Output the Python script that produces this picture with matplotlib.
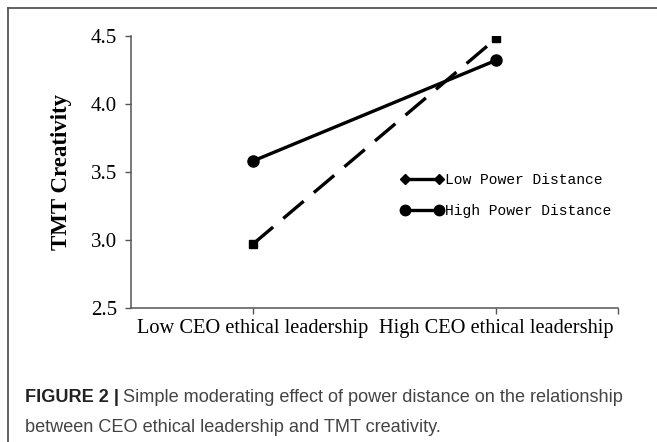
import matplotlib
matplotlib.use("Agg")
import matplotlib.pyplot as plt
from matplotlib.lines import Line2D

# data
categories = ["Low CEO ethical leadership", "High CEO ethical leadership"]
low_pd = [2.97, 4.48]
high_pd = [3.58, 4.32]
series_names = ["Low Power Distance", "High Power Distance"]
y_ticks = [2.5, 3.0, 3.5, 4.0, 4.5]

W, H = 657, 442
fig = plt.figure(figsize=(W / 100, H / 100), dpi=100)
ax = fig.add_axes([131 / W, 1 - 308.3 / H, (618 - 131) / W, (308.3 - 35.7) / H])

x = list(range(len(categories)))
ax.plot(x, low_pd, color="black", lw=2.4, dashes=(8, 4),
        marker="s", ms=5.5, dash_capstyle="butt")
ax.plot(x, high_pd, color="black", lw=2.4, marker="o", ms=8)

ax.set_xlim(-0.5, 1.5)
ax.set_ylim(2.5, 4.5)
ax.set_yticks(y_ticks)
ax.set_yticklabels([f"{v:.1f}" for v in y_ticks])
ax.set_xticks(x + [1.5])
ax.set_xticklabels(categories + [""])

serif = "Liberation Serif"
for lab in ax.get_yticklabels():
    lab.set_fontfamily(serif)
    lab.set_fontsize(15)
for lab in ax.get_xticklabels():
    lab.set_fontfamily(serif)
    lab.set_fontsize(14.7)

ax.tick_params(axis="y", direction="out", length=4, width=1, color="#555555", pad=6)
ax.tick_params(axis="x", direction="out", length=4, width=1, color="#555555", pad=4)
for side in ["top", "right"]:
    ax.spines[side].set_visible(False)
for side in ["left", "bottom"]:
    ax.spines[side].set_color("#555555")
    ax.spines[side].set_linewidth(1.1)

fig.text(62 / W, 1 - 172 / H, "TMT Creativity", rotation=90, ha="center", va="center",
         family=serif, fontweight="bold", fontsize=16.5)

# legend (excel style: solid sample with markers at both ends)
handles = [
    Line2D([], [], color="black", lw=2.4, marker="D", ms=5),
    Line2D([], [], color="black", lw=2.4, marker="o", ms=7.5),
]
ax.legend(handles, series_names, loc="upper left", bbox_to_anchor=(401 / W, 1 - 173 / H),
          bbox_transform=fig.transFigure, frameon=False, numpoints=2,
          handlelength=2.9, handletextpad=0.1, labelspacing=1.2,
          borderpad=0, borderaxespad=0,
          prop={"family": "Liberation Mono", "size": 10.5})

# frame lines of the figure panel
fig.add_artist(Line2D([8 / W, 8 / W], [0, 1 - 8 / H], color="#555555", lw=1.3,
                      transform=fig.transFigure))
fig.add_artist(Line2D([8 / W, 1], [1 - 8 / H, 1 - 8 / H], color="#555555", lw=1.3,
                      transform=fig.transFigure))

# caption
t1 = fig.text(25 / W, 1 - 402 / H, "FIGURE 2 |", family="Liberation Sans",
              fontweight="bold", fontsize=13.1, color="#222222", va="baseline")
ax.annotate("Simple moderating effect of power distance on the relationship",
            xy=(1, 0), xycoords=t1, xytext=(3, 0), textcoords="offset points",
            va="bottom", ha="left", family="Liberation Sans", fontsize=13.1,
            color="#444444", annotation_clip=False)
fig.text(25 / W, 1 - 432 / H, "between CEO ethical leadership and TMT creativity.",
         family="Liberation Sans", fontsize=13.1, color="#444444", va="baseline")

fig.savefig("out.png", dpi=100)
